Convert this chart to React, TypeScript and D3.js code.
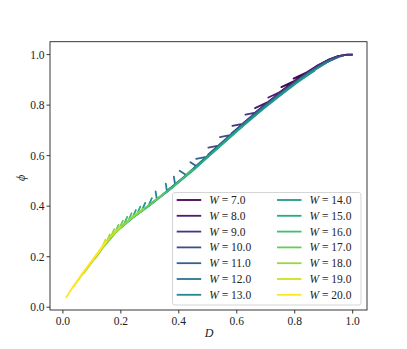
import React from 'react';
import * as d3 from 'd3';

// W values for each curve
const widths = [7, 8, 9, 10, 11, 12, 13, 14, 15, 16, 17, 18, 19, 20];

// [D, phi] samples, one list per W
const w7 = [[0.74, 0.843], [0.77, 0.870], [0.80, 0.896], [0.754, 0.871], [0.80, 0.896], [0.842, 0.930], [0.796, 0.905], [0.842, 0.930], [0.88, 0.958], [0.92, 0.981], [0.95, 0.994], [0.98, 1.0], [1.0, 1.0]];
const w8 = [[0.66, 0.767], [0.709, 0.813], [0.663, 0.788], [0.709, 0.813], [0.755, 0.855], [0.709, 0.830], [0.755, 0.855], [0.80, 0.894], [0.84, 0.926], [0.88, 0.957], [0.92, 0.981], [0.95, 0.994], [0.98, 1.0], [1.0, 1.0]];
const w9 = [[0.58, 0.686], [0.62, 0.726], [0.585, 0.718], [0.62, 0.726], [0.665, 0.770], [0.630, 0.762], [0.665, 0.770], [0.70, 0.803], [0.74, 0.839], [0.78, 0.874], [0.82, 0.908], [0.86, 0.940], [0.90, 0.968], [0.94, 0.989], [0.97, 0.998], [1.0, 1.0]];
const w10 = [[0.50, 0.603], [0.537, 0.640], [0.502, 0.632], [0.537, 0.640], [0.577, 0.681], [0.542, 0.673], [0.577, 0.681], [0.62, 0.724], [0.66, 0.763], [0.70, 0.801], [0.74, 0.837], [0.78, 0.872], [0.82, 0.906], [0.86, 0.938], [0.90, 0.966], [0.94, 0.987], [0.97, 0.997]];
const w11 = [[0.43, 0.528], [0.46, 0.559], [0.44, 0.574], [0.46, 0.559], [0.495, 0.595], [0.46, 0.587], [0.495, 0.595], [0.54, 0.641], [0.58, 0.682], [0.62, 0.722], [0.66, 0.761], [0.70, 0.799], [0.74, 0.835], [0.78, 0.870], [0.82, 0.904], [0.86, 0.936], [0.90, 0.964], [0.95, 0.99]];
const w12 = [[0.36, 0.462], [0.387, 0.487], [0.383, 0.517], [0.387, 0.487], [0.425, 0.523], [0.403, 0.540], [0.425, 0.523], [0.47, 0.568], [0.51, 0.609], [0.55, 0.650], [0.59, 0.690], [0.63, 0.730], [0.67, 0.769], [0.71, 0.806], [0.75, 0.842], [0.79, 0.877], [0.83, 0.911], [0.87, 0.942], [0.93, 0.982]];
const w13 = [[0.30, 0.407], [0.324, 0.428], [0.320, 0.458], [0.324, 0.428], [0.359, 0.459], [0.355, 0.489], [0.359, 0.459], [0.40, 0.497], [0.44, 0.535], [0.48, 0.576], [0.52, 0.617], [0.56, 0.658], [0.60, 0.698], [0.64, 0.738], [0.68, 0.776], [0.72, 0.813], [0.76, 0.849], [0.80, 0.884], [0.84, 0.917], [0.88, 0.947], [0.91, 0.968]];
const w14 = [[0.245, 0.358], [0.272, 0.381], [0.284, 0.413], [0.272, 0.381], [0.295, 0.400], [0.307, 0.432], [0.295, 0.400], [0.33, 0.431], [0.37, 0.467], [0.41, 0.505], [0.45, 0.543], [0.49, 0.584], [0.53, 0.625], [0.57, 0.666], [0.61, 0.706], [0.65, 0.745], [0.69, 0.783], [0.73, 0.820], [0.77, 0.856], [0.81, 0.890], [0.85, 0.922], [0.87, 0.937]];
const w15 = [[0.20, 0.314], [0.24, 0.353], [0.252, 0.385], [0.24, 0.353], [0.255, 0.366], [0.267, 0.398], [0.255, 0.366], [0.29, 0.396], [0.33, 0.431], [0.37, 0.467], [0.41, 0.505], [0.45, 0.543], [0.49, 0.584], [0.53, 0.625], [0.57, 0.666], [0.62, 0.716]];
const w16 = [[0.15, 0.253], [0.18, 0.293], [0.21, 0.326], [0.222, 0.358], [0.21, 0.326], [0.225, 0.340], [0.237, 0.372], [0.225, 0.340], [0.26, 0.372], [0.30, 0.406], [0.34, 0.441], [0.38, 0.477], [0.42, 0.516], [0.45, 0.547]];
const w17 = [[0.11, 0.191], [0.14, 0.239], [0.18, 0.294], [0.192, 0.326], [0.18, 0.294], [0.195, 0.311], [0.207, 0.343], [0.195, 0.311], [0.23, 0.346], [0.27, 0.381], [0.31, 0.415], [0.35, 0.451]];
const w18 = [[0.07, 0.132], [0.10, 0.178], [0.13, 0.225], [0.15, 0.256], [0.162, 0.288], [0.15, 0.256], [0.165, 0.277], [0.177, 0.309], [0.165, 0.277], [0.20, 0.318], [0.24, 0.357], [0.28, 0.392]];
const w19 = [[0.035, 0.079], [0.06, 0.119], [0.09, 0.166], [0.12, 0.211], [0.135, 0.236], [0.147, 0.268], [0.135, 0.236], [0.16, 0.273], [0.20, 0.321]];
const w20 = [[0.01, 0.036], [0.03, 0.072], [0.05, 0.105], [0.07, 0.138], [0.09, 0.169], [0.11, 0.200], [0.13, 0.231], [0.15, 0.262]];

const curves = [w7, w8, w9, w10, w11, w12, w13, w14, w15, w16, w17, w18, w19, w20];

const xTicks = [0, 0.2, 0.4, 0.6, 0.8, 1.0];
const yTicks = [0, 0.2, 0.4, 0.6, 0.8, 1.0];

const font = '"Liberation Serif", "DejaVu Serif", serif';

export default function App() {
  const x = d3.scaleLinear().domain([-0.0445, 1.0495]).range([50, 367]);
  const y = d3.scaleLinear().domain([-0.011, 1.051]).range([310, 41.7]);
  const color = d3.scaleSequential(d3.interpolateViridis).domain([7, 20]);
  const line = d3.line<number[]>().x(d => x(d[0])).y(d => y(d[1]));
  const fmt = d3.format('.1f');

  // legend layout
  const lgX = 172.5, lgY = 192.5, lgW = 188.5, lgH = 112.5;
  const rowH = 15.8;

  return (
    <svg width={407} height={349} style={{ position: 'absolute', left: 0, top: 0, background: '#fff' }}
      fontFamily={font}>
      <g>
        {curves.map((pts, i) => (
          <path key={i} d={line(pts) || ''} fill="none" stroke={color(widths[i])}
            strokeWidth={1.8} strokeLinejoin="round" strokeLinecap="butt" />
        ))}
      </g>

      {/* frame */}
      <rect x={50} y={41.7} width={317} height={268.3} fill="none" stroke="#222" strokeWidth={0.9} />

      {/* x axis */}
      {xTicks.map(t => (
        <g key={'x' + t}>
          <line x1={x(t)} x2={x(t)} y1={310} y2={313.5} stroke="#222" strokeWidth={0.9} />
          <text x={x(t)} y={325} textAnchor="middle" fontSize={11.5} fill="#222">{fmt(t)}</text>
        </g>
      ))}
      {/* y axis */}
      {yTicks.map(t => (
        <g key={'y' + t}>
          <line x1={46.5} x2={50} y1={y(t)} y2={y(t)} stroke="#222" strokeWidth={0.9} />
          <text x={44.5} y={y(t) + 4} textAnchor="end" fontSize={11.5} fill="#222">{fmt(t)}</text>
        </g>
      ))}

      <text x={209} y={337} textAnchor="middle" fontSize={12} fontStyle="italic" fill="#222">D</text>
      <text transform="translate(25,178) rotate(-90)" textAnchor="middle" fontSize={12}
        fontStyle="italic" fill="#222">ϕ</text>

      {/* legend */}
      <rect x={lgX} y={lgY} width={lgW} height={lgH} rx={2.5} fill="#fff" fillOpacity={0.8}
        stroke="#d0d0d0" strokeWidth={0.9} />
      {widths.map((w, i) => {
        const col = i < 7 ? 0 : 1;
        const row = i % 7;
        const lx = col === 0 ? 176.7 : 277;
        const cy = 200 + row * rowH;
        return (
          <g key={'lg' + w}>
            <line x1={lx} x2={lx + 24.5} y1={cy} y2={cy} stroke={color(w)} strokeWidth={1.8} />
            <text x={lx + 32.5} y={cy + 4} fontSize={11.5} fill="#222">
              <tspan fontStyle="italic">W</tspan> = {w.toFixed(1)}
            </text>
          </g>
        );
      })}
    </svg>
  );
}
